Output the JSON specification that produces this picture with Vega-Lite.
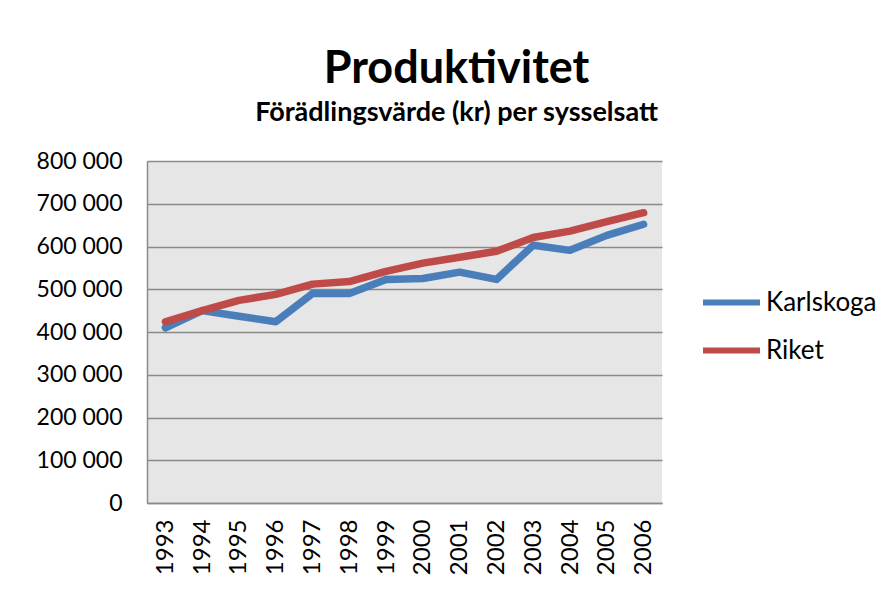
{
  "$schema": "https://vega.github.io/schema/vega-lite/v6.json",
  "width": 515,
  "height": 342,
  "autosize": "none",
  "padding": {"left": 147, "top": 161, "right": 227, "bottom": 100},
  "background": "white",
  "title": {
    "text": "Produktivitet",
    "subtitle": "Förädlingsvärde (kr) per sysselsatt",
    "anchor": "middle",
    "dx": 52,
    "offset": 24,
    "font": "Lato",
    "fontSize": 45,
    "fontWeight": "bold",
    "color": "black",
    "subtitleFont": "Lato",
    "subtitleFontSize": 27,
    "subtitleFontWeight": "bold",
    "subtitleColor": "black",
    "subtitlePadding": 8
  },
  "data": {
    "values": [
      {"year": "1993", "series": "Karlskoga", "value": 410000},
      {"year": "1994", "series": "Karlskoga", "value": 450000},
      {"year": "1995", "series": "Karlskoga", "value": 437000},
      {"year": "1996", "series": "Karlskoga", "value": 424000},
      {"year": "1997", "series": "Karlskoga", "value": 490000},
      {"year": "1998", "series": "Karlskoga", "value": 490000},
      {"year": "1999", "series": "Karlskoga", "value": 523000},
      {"year": "2000", "series": "Karlskoga", "value": 525000},
      {"year": "2001", "series": "Karlskoga", "value": 540000},
      {"year": "2002", "series": "Karlskoga", "value": 523000},
      {"year": "2003", "series": "Karlskoga", "value": 603000},
      {"year": "2004", "series": "Karlskoga", "value": 591000},
      {"year": "2005", "series": "Karlskoga", "value": 626000},
      {"year": "2006", "series": "Karlskoga", "value": 652000},
      {"year": "1993", "series": "Riket", "value": 424000},
      {"year": "1994", "series": "Riket", "value": 450000},
      {"year": "1995", "series": "Riket", "value": 474000},
      {"year": "1996", "series": "Riket", "value": 488000},
      {"year": "1997", "series": "Riket", "value": 512000},
      {"year": "1998", "series": "Riket", "value": 518000},
      {"year": "1999", "series": "Riket", "value": 542000},
      {"year": "2000", "series": "Riket", "value": 561000},
      {"year": "2001", "series": "Riket", "value": 575000},
      {"year": "2002", "series": "Riket", "value": 589000},
      {"year": "2003", "series": "Riket", "value": 621000},
      {"year": "2004", "series": "Riket", "value": 636000},
      {"year": "2005", "series": "Riket", "value": 658000},
      {"year": "2006", "series": "Riket", "value": 679000}
    ]
  },
  "mark": {"type": "line", "strokeWidth": 7.5, "strokeCap": "round", "strokeJoin": "round"},
  "encoding": {
    "x": {
      "field": "year",
      "type": "ordinal",
      "scale": {"type": "point", "padding": 0.5},
      "axis": {
        "title": null,
        "labelAngle": -90,
        "labelAlign": "right",
        "labelBaseline": "middle",
        "labelFont": "Lato",
        "labelFontSize": 24,
        "labelColor": "black",
        "labelPadding": 16,
        "ticks": false,
        "domainColor": "#8a8a8a",
        "domainWidth": 1.5,
        "grid": false
      }
    },
    "y": {
      "field": "value",
      "type": "quantitative",
      "scale": {"domain": [0, 800000], "nice": false},
      "axis": {
        "title": null,
        "values": [0, 100000, 200000, 300000, 400000, 500000, 600000, 700000, 800000],
        "labelExpr": "replace(format(datum.value, ','), ',', ' ')",
        "labelFont": "Lato",
        "labelFontSize": 23,
        "labelColor": "black",
        "labelPadding": 25,
        "ticks": false,
        "domainColor": "#8a8a8a",
        "domainWidth": 1.5,
        "grid": true,
        "gridColor": "#8a8a8a",
        "gridWidth": 1.5
      }
    },
    "color": {
      "field": "series",
      "type": "nominal",
      "scale": {"domain": ["Karlskoga", "Riket"], "range": ["#4a7ebb", "#be4b48"]},
      "legend": {
        "title": null,
        "orient": "none",
        "legendX": 553,
        "legendY": 110,
        "symbolType": "stroke",
        "symbolSize": 3249,
        "symbolStrokeWidth": 6,
        "labelFont": "Lato",
        "labelFontSize": 26,
        "labelColor": "black",
        "labelOffset": 3,
        "rowPadding": 3,
        "padding": 0
      }
    }
  },
  "config": {
    "view": {"fill": "#e6e6e6", "stroke": null}
  }
}
